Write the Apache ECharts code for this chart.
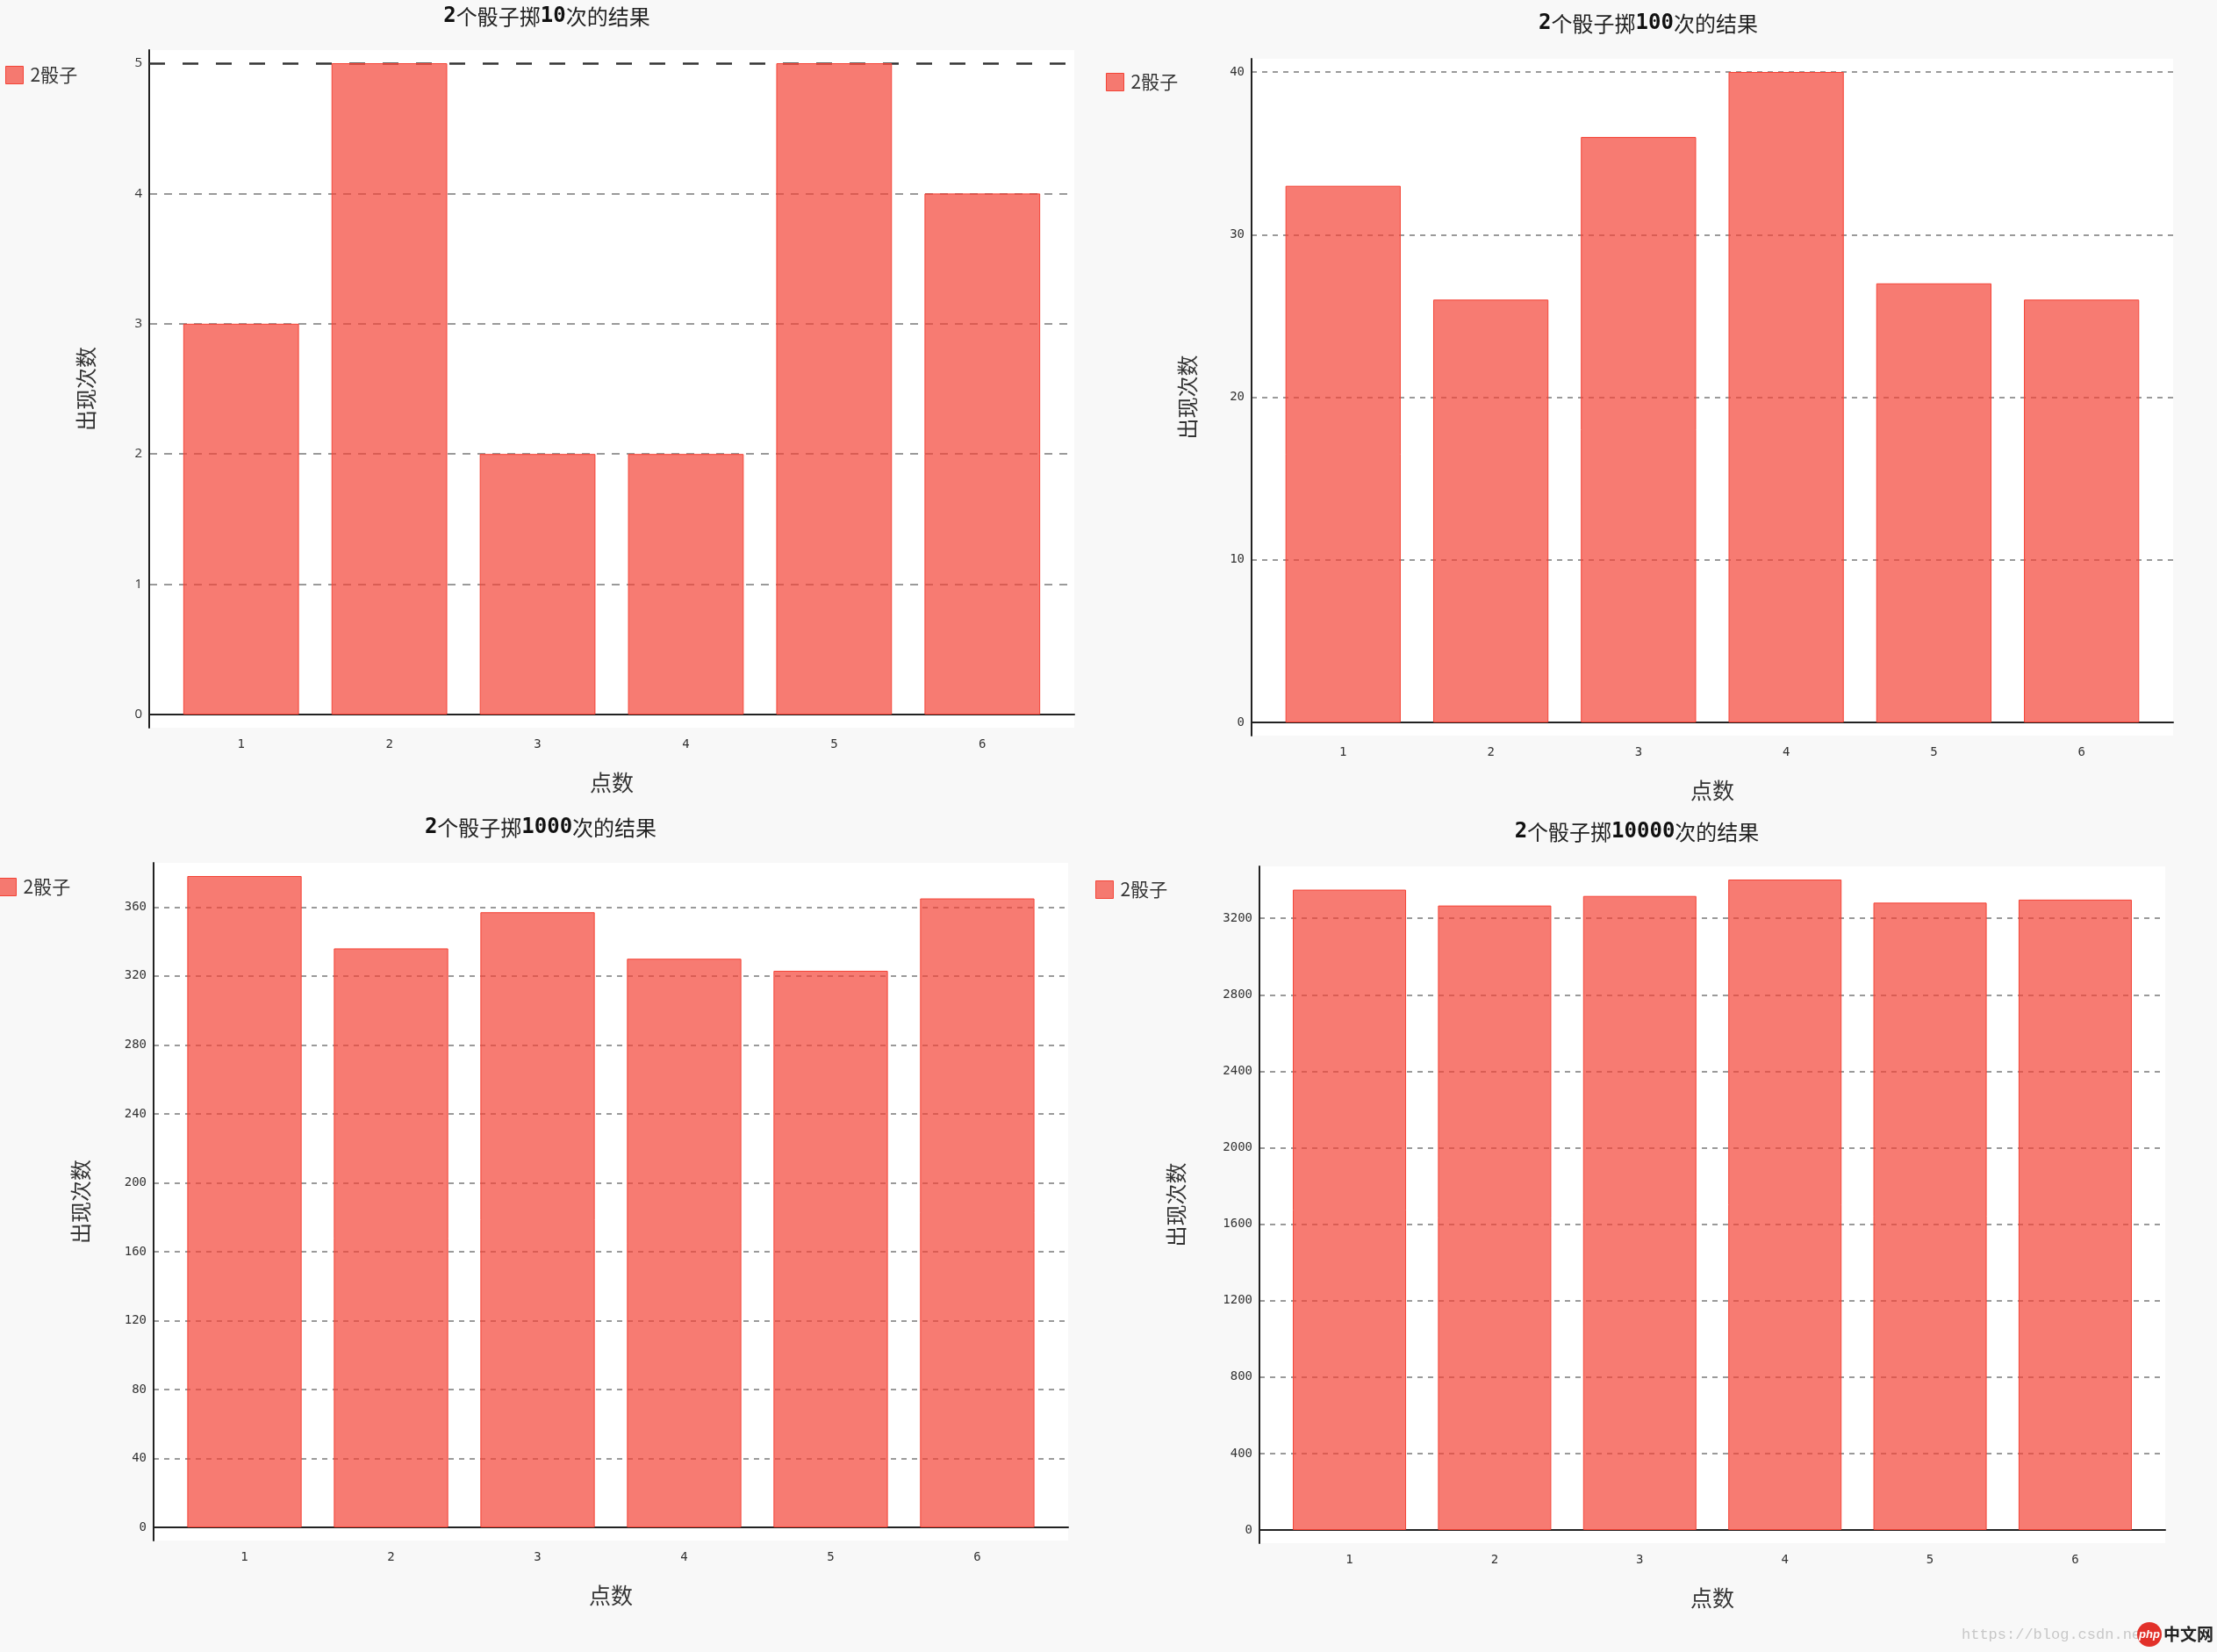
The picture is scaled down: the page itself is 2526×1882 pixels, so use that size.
<!DOCTYPE html>
<html>
<head>
<meta charset="utf-8">
<style>
html,body{margin:0;padding:0;background:#f8f8f8;}
#c{width:2526px;height:1882px;}
</style>
<script src="https://cdn.jsdelivr.net/npm/echarts@6/dist/echarts.min.js"></script>
</head>
<body>
<div id="c"></div>
<script>
// ---------------- data ----------------
const categories = ['1', '2', '3', '4', '5', '6'];
const chartTitles = ['2个骰子掷10次的结果', '2个骰子掷100次的结果', '2个骰子掷1000次的结果', '2个骰子掷10000次的结果'];
const seriesName = '2骰子';
const xAxisTitle = '点数';
const yAxisTitle = '出现次数';
const counts10 = [3, 5, 2, 2, 5, 4];
const counts100 = [33, 26, 36, 40, 27, 26];
const counts1000 = [378, 336, 357, 330, 323, 365];
const counts10000 = [3350, 3267, 3317, 3403, 3282, 3298];
const yTickSteps = [1, 10, 40, 400];
const watermarkText = 'https://blog.csdn.net';
const watermarkBrand = ['php', '中文网'];

// ---------------- layout / style ----------------
const allCounts = [counts10, counts100, counts1000, counts10000];
const panels = [
  { plot: [170, 57, 1054, 772], title: [623, 19], legend: [6, 75], yNameGap: 60, yLabelFont: 'Open Sans', yLabelSize: 15, dash: [9, 8], majorTop: true },
  { plot: [1426, 67, 1050, 771], title: [1878, 27], legend: [1260, 83], yNameGap: 61, yLabelFont: 'DejaVu Sans Mono', yLabelSize: 14, dash: [6, 6] },
  { plot: [175, 983, 1042, 772], title: [616, 943], legend: [-2, 1000], yNameGap: 71, yLabelFont: 'DejaVu Sans Mono', yLabelSize: 14, dash: [6, 6] },
  { plot: [1435, 987, 1032, 771], title: [1865, 948], legend: [1248, 1003], yNameGap: 83, yLabelFont: 'DejaVu Sans Mono', yLabelSize: 14, dash: [6, 6] }
];
const PAD_Y = 15;       // pixels between plot edge and value range
const PAD_X = 0.12;     // category-band fraction of padding at each side
const CJK = '"Noto Sans CJK SC", "Noto Sans", sans-serif';
const MONO = '"DejaVu Sans Mono", monospace';
const barFill = 'rgba(244,67,54,0.7)';
const barStroke = '#F44336';

const grid = [], xAxis = [], yAxis = [], series = [], legend = [], graphic = [];

panels.forEach(function (p, i) {
  const [L, T, W, H] = p.plot;
  const values = allCounts[i];
  const step = yTickSteps[i];
  const maxVal = Math.max.apply(null, values);
  const topIsTick = maxVal % step === 0;

  // white plot background + y axis line
  grid.push({ left: L, top: T, width: W, height: H, show: true, backgroundColor: '#ffffff', borderWidth: 0, containLabel: false, outerBoundsMode: 'none' });
  xAxis.push({ gridIndex: 2 * i, type: 'value', show: false, min: 0, max: 1 });
  yAxis.push({ gridIndex: 2 * i, type: 'value', min: 0, max: 1,
    axisLine: { show: true, lineStyle: { color: '#222', width: 2 } },
    axisTick: { show: false }, axisLabel: { show: false }, splitLine: { show: false } });

  // data grid
  grid.push({ left: L, top: T + PAD_Y, width: W, height: H - 2 * PAD_Y, show: false, containLabel: false, outerBoundsMode: 'none' });
  xAxis.push({
    gridIndex: 2 * i + 1, type: 'value',
    min: 0.5 - PAD_X, max: categories.length + 0.5 + PAD_X,
    minInterval: 1, maxInterval: 1,
    axisLine: { show: true, onZero: false, lineStyle: { color: '#222', width: 2 } },
    axisTick: { show: false }, splitLine: { show: false },
    axisLabel: {
      margin: 27, fontSize: 14, fontFamily: MONO, color: '#333',
      showMinLabel: true, showMaxLabel: true,
      formatter: function (v) {
        const r = Math.round(v);
        return (Math.abs(v - r) < 1e-6 && r >= 1 && r <= categories.length) ? categories[r - 1] : '';
      }
    },
    name: xAxisTitle, nameLocation: 'middle', nameGap: 65,
    nameTextStyle: { fontSize: 25, fontFamily: CJK, color: '#333' }
  });
  yAxis.push({
    gridIndex: 2 * i + 1, type: 'value', min: 0, max: 'dataMax', interval: step,
    axisLine: { show: false }, axisTick: { show: false },
    axisLabel: {
      margin: 8, fontSize: p.yLabelSize, fontFamily: p.yLabelFont, color: '#333',
      showMaxLabel: topIsTick,
      formatter: function (v) { return (v % step === 0) ? String(v) : ''; }
    },
    splitLine: {
      show: true, showMinLine: false, showMaxLine: topIsTick && !p.majorTop,
      lineStyle: { type: p.dash, color: '#7a7a7a', width: 1.5 }
    },
    name: yAxisTitle, nameLocation: 'middle', nameRotate: 90, nameGap: p.yNameGap,
    nameTextStyle: { fontSize: 24, fontFamily: CJK, color: '#333' }
  });

  const s = {
    type: 'bar', name: seriesName,
    xAxisIndex: 2 * i + 1, yAxisIndex: 2 * i + 1,
    data: values.map(function (v, k) { return [Number(categories[k]), v]; }),
    barWidth: '78%',
    itemStyle: { color: barFill, borderColor: barStroke, borderWidth: 1 },
    emphasis: { disabled: true },
    silent: true
  };
  if (p.majorTop) {
    s.markLine = {
      silent: true, symbol: 'none', z: 1, animation: false,
      label: { show: false },
      lineStyle: { type: [18, 20], color: '#333', width: 2.5 },
      data: [{ yAxis: maxVal }]
    };
  }
  series.push(s);

  legend.push({
    data: [seriesName], left: p.legend[0], top: p.legend[1], padding: 0,
    icon: 'rect', itemWidth: 20, itemHeight: 20, selectedMode: false,
    itemStyle: { color: barFill, borderColor: barStroke, borderWidth: 1 },
    textStyle: { fontSize: 21, fontFamily: CJK, color: '#333', padding: [0, 0, 0, 3] }
  });

  // chart title: digits bold monospace, CJK regular
  const richText = chartTitles[i].replace(/(\d+)/g, '{d|$1}');
  graphic.push({
    type: 'text', x: p.title[0], y: p.title[1], silent: true,
    style: {
      text: richText, align: 'center', verticalAlign: 'middle',
      fontSize: 24, fontFamily: CJK, fill: '#222',
      rich: { d: { fontSize: 24, fontFamily: MONO, fontWeight: 'bold', fill: '#111' } }
    }
  });
});

// watermark
graphic.push({ type: 'text', x: 2235, y: 1862, silent: true,
  style: { text: watermarkText, fontSize: 17, fontFamily: '"Liberation Mono", monospace', fill: '#c8c8c8', verticalAlign: 'middle', align: 'left' } });
graphic.push({ type: 'circle', shape: { cx: 2449, cy: 1862, r: 14 }, style: { fill: '#e2312a' }, silent: true });
graphic.push({ type: 'text', x: 2449, y: 1862, silent: true,
  style: { text: watermarkBrand[0], fontSize: 13, fontStyle: 'italic', fontWeight: 'bold', fontFamily: '"Liberation Sans", sans-serif', fill: '#fff', align: 'center', verticalAlign: 'middle' } });
graphic.push({ type: 'text', x: 2465, y: 1862, silent: true,
  style: { text: watermarkBrand[1], fontSize: 19, fontWeight: 'bold', fontFamily: CJK, fill: '#222', align: 'left', verticalAlign: 'middle' } });

const chart = echarts.init(document.getElementById('c'), null, { renderer: 'canvas' });
chart.setOption({
  backgroundColor: '#f8f8f8',
  animation: false,
  grid: grid, xAxis: xAxis, yAxis: yAxis, series: series, legend: legend,
  graphic: graphic
});
</script>
</body>
</html>
